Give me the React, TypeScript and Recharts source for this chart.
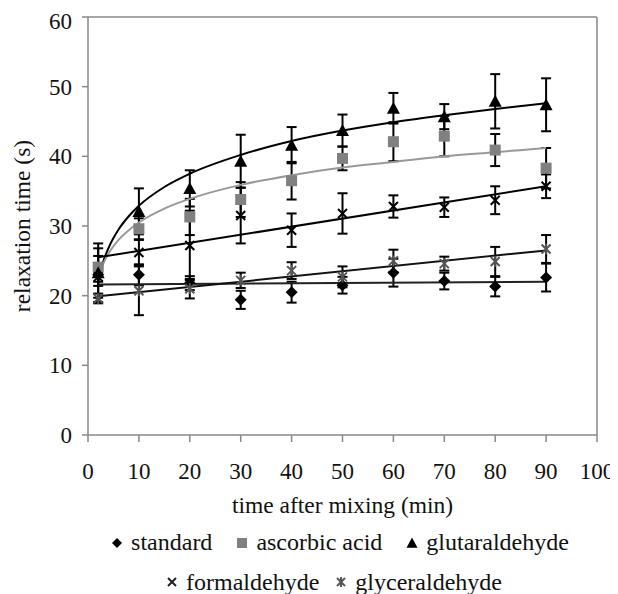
import { ComposedChart, Scatter, Line, XAxis, YAxis, ErrorBar, ReferenceLine, Label } from 'recharts'

// sampling times (min)
const times = [2, 10, 20, 30, 40, 50, 60, 70, 80, 90]

// relaxation time (s) and error bars per treatment
const standard = [23.0, 23.0, 21.8, 19.4, 20.5, 21.5, 23.3, 22.1, 21.3, 22.6]
const standardErr = [1.0, 1.5, 1.0, 1.3, 1.5, 1.2, 2.0, 1.2, 1.4, 2.0]
const ascorbic = [24.1, 29.6, 31.3, 33.8, 36.5, 39.7, 42.1, 42.9, 40.9, 38.3]
const ascorbicErr = [2.7, 1.5, 2.6, 2.5, 2.7, 1.7, 2.8, 2.9, 2.3, 2.9]
const glutaraldehyde = [23.3, 32.1, 35.4, 39.3, 41.6, 43.7, 46.9, 45.7, 47.9, 47.4]
const glutaraldehydeErr = [4.2, 3.3, 2.6, 3.8, 2.6, 2.3, 2.2, 1.8, 3.9, 3.8]
const formaldehyde = [22.7, 26.2, 27.2, 31.5, 29.4, 31.8, 32.8, 32.7, 33.7, 35.7]
const formaldehydeErr = [3.0, 1.8, 5.0, 4.0, 2.4, 2.9, 1.6, 1.4, 2.0, 1.7]
const glyceraldehyde = [19.6, 20.7, 21.0, 22.2, 23.6, 22.7, 25.0, 24.6, 24.9, 26.7]
const glyceraldehydeErr = [0.7, 3.5, 1.4, 1.1, 1.2, 1.5, 1.6, 1.0, 2.1, 2.0]

// trend lines
const curveX = [2, 3, 4, 6, 8, 10, 15, 20, 30, 40, 50, 60, 70, 80, 90]
const glutaraldehydeTrend = [22.1, 24.9, 26.8, 29.5, 31.4, 32.9, 35.6, 37.5, 40.2, 42.2, 43.7, 44.9, 45.9, 46.8, 47.6]
const ascorbicTrend = [22.7, 24.6, 26.0, 28.0, 29.4, 30.5, 32.5, 33.9, 35.9, 37.3, 38.4, 39.2, 40.0, 40.6, 41.2]
const straightX = [2, 90]
const standardTrend = [21.6, 22.0]
const formaldehydeTrend = [25.5, 35.7]
const glyceraldehydeTrend = [19.9, 26.5]

const xTicks = [0, 10, 20, 30, 40, 50, 60, 70, 80, 90, 100]
const yTicks = [0, 10, 20, 30, 40, 50, 60]

const FONT = 'Liberation Serif'
const AXIS = '#888'
const GREY = '#808080'
const TEXT = '#111'

const points = (ys: number[], errs: number[]) => times.map((x, i) => ({ x, y: ys[i], err: errs[i] }))
const curve = (xs: number[], ys: number[]) => xs.map((x, i) => ({ x, y: ys[i] }))

const diamond = (cx: number, cy: number, r: number, fill: string) => (
    <polygon points={`${cx},${cy - r} ${cx + r},${cy} ${cx},${cy + r} ${cx - r},${cy}`} fill={fill} />
)
const square = (cx: number, cy: number, r: number, fill: string) => (
    <rect x={cx - r} y={cy - r} width={r * 2} height={r * 2} fill={fill} />
)
const triangle = (cx: number, cy: number, r: number, fill: string) => (
    <polygon points={`${cx},${cy - r} ${cx + r},${cy + r * 0.85} ${cx - r},${cy + r * 0.85}`} fill={fill} />
)
const cross = (cx: number, cy: number, r: number, stroke: string) => (
    <g stroke={stroke} strokeWidth={2}>
        <line x1={cx - r} y1={cy - r} x2={cx + r} y2={cy + r} />
        <line x1={cx - r} y1={cy + r} x2={cx + r} y2={cy - r} />
    </g>
)
const star = (cx: number, cy: number, r: number, stroke: string) => (
    <g stroke={stroke} strokeWidth={2}>
        <line x1={cx - r} y1={cy - r} x2={cx + r} y2={cy + r} />
        <line x1={cx - r} y1={cy + r} x2={cx + r} y2={cy - r} />
        <line x1={cx} y1={cy - r - 1} x2={cx} y2={cy + r + 1} />
    </g>
)

const series = [
    { name: 'standard', data: points(standard, standardErr), draw: (cx: number, cy: number) => diamond(cx, cy, 6, '#000'), icon: () => diamond(6, 10, 5, '#000') },
    { name: 'ascorbic acid', data: points(ascorbic, ascorbicErr), draw: (cx: number, cy: number) => square(cx, cy, 5.5, GREY), icon: () => square(6, 10, 5, GREY) },
    { name: 'glutaraldehyde', data: points(glutaraldehyde, glutaraldehydeErr), draw: (cx: number, cy: number) => triangle(cx, cy, 6.5, '#000'), icon: () => triangle(6, 10, 5.5, '#000') },
    { name: 'formaldehyde', data: points(formaldehyde, formaldehydeErr), draw: (cx: number, cy: number) => cross(cx, cy, 4.5, '#000'), icon: () => cross(6, 10, 4, '#222') },
    { name: 'glyceraldehyde', data: points(glyceraldehyde, glyceraldehydeErr), draw: (cx: number, cy: number) => star(cx, cy, 4.5, '#555'), icon: () => star(6, 10, 4, '#555') },
]

const trends = [
    { key: 'glu', data: curve(curveX, glutaraldehydeTrend), color: '#000', type: 'monotone' as const },
    { key: 'asc', data: curve(curveX, ascorbicTrend), color: '#999', type: 'monotone' as const },
    { key: 'std', data: curve(straightX, standardTrend), color: '#222', type: 'linear' as const },
    { key: 'for', data: curve(straightX, formaldehydeTrend), color: '#000', type: 'linear' as const },
    { key: 'gly', data: curve(straightX, glyceraldehydeTrend), color: '#111', type: 'linear' as const },
]

const LegendItem = ({ s, gap }: { s: (typeof series)[number]; gap: number }) => (
    <span style={{ display: 'inline-flex', alignItems: 'center', margin: `0 ${gap}px` }}>
        <svg width={12} height={20} style={{ marginRight: 8 }}>{s.icon()}</svg>
        {s.name}
    </span>
)

export default function App() {
    return (
        <div style={{ position: 'relative', width: 610, height: 586, fontFamily: FONT }}>
            <ComposedChart width={610} height={586} margin={{ top: 9, right: 21, left: 0, bottom: 0 }}>
                <XAxis
                    type="number"
                    dataKey="x"
                    domain={[0, 100]}
                    ticks={xTicks}
                    height={159}
                    tickSize={7}
                    tickMargin={21}
                    stroke={AXIS}
                    strokeWidth={1.5}
                    tick={{ fill: TEXT, fontSize: 23, fontFamily: FONT }}
                >
                    <Label value="time after mixing (min)" position="insideTop" offset={61} style={{ fill: TEXT, fontSize: 23.5, fontFamily: FONT }} />
                </XAxis>
                <YAxis
                    type="number"
                    dataKey="y"
                    domain={[0, 60]}
                    ticks={yTicks}
                    width={80}
                    tickSize={6}
                    tickMargin={10}
                    stroke={AXIS}
                    strokeWidth={1.5}
                    tick={{ fill: TEXT, fontSize: 23, fontFamily: FONT }}
                >
                    <Label value="relaxation time (s)" angle={-90} position="insideLeft" offset={14} style={{ fill: TEXT, fontSize: 23.5, fontFamily: FONT, textAnchor: 'middle' }} />
                </YAxis>
                <ReferenceLine y={60} stroke={AXIS} strokeWidth={1.5} />
                <ReferenceLine x={100} stroke={AXIS} strokeWidth={1.5} />
                {series.map((s) => (
                    <Scatter
                        key={s.name}
                        name={s.name}
                        data={s.data}
                        dataKey="y"
                        isAnimationActive={false}
                        shape={(p: any) => s.draw(p.cx, p.cy)}
                    >
                        <ErrorBar dataKey="err" direction="y" width={5} stroke="#000" strokeWidth={2} isAnimationActive={false} />
                    </Scatter>
                ))}
                {trends.map((t) => (
                    <Line
                        key={t.key}
                        data={t.data}
                        dataKey="y"
                        type={t.type}
                        stroke={t.color}
                        strokeWidth={2}
                        dot={false}
                        activeDot={false}
                        isAnimationActive={false}
                    />
                ))}
            </ComposedChart>
            <div style={{ position: 'absolute', left: 50, top: 516, width: 570, textAlign: 'center', fontSize: 24, lineHeight: '37px', color: TEXT, whiteSpace: 'nowrap' }}>
                <div style={{ paddingRight: 6 }}>
                    {series.slice(0, 3).map((s) => <LegendItem key={s.name} s={s} gap={12} />)}
                </div>
                <div style={{ paddingRight: 18 }}>
                    {series.slice(3).map((s) => <LegendItem key={s.name} s={s} gap={8} />)}
                </div>
            </div>
        </div>
    )
}
